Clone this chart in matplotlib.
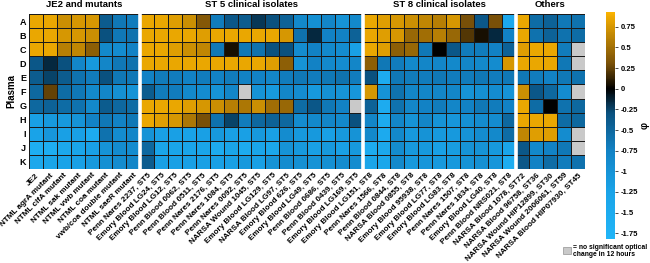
import numpy as np
import matplotlib
matplotlib.use("Agg")
import matplotlib.pyplot as plt
from matplotlib.colors import LinearSegmentedColormap, Normalize
from matplotlib.patches import Rectangle

plt.rcParams['font.family'] = ['Liberation Sans', 'DejaVu Sans']
plt.rcParams['font.weight'] = 'bold'

rows = list("ABCDEFGHIJK")

je2_labels = ["JE2", "NTML agrA mutant", "NTML clfA mutant", "NTML sak mutant",
              "NTML vwb mutant", "NTML coa mutant", "vwb/coa double mutant", "NTML saeR mutant"]
st5_labels = ["Penn Nares 2237, ST5", "Emory Blood LG24, ST5", "Emory Blood LG12, ST5",
              "Penn Blood 0062, ST5", "Penn Blood 0511, ST5", "Penn Nares 2176, ST5",
              "Penn Nares 1084, ST5", "Penn Nares 0092, ST5", "NARSA Wound 1045, ST5",
              "Emory Blood LG129, ST5", "NARSA Blood LG97, ST5", "Emory Blood 626, ST5",
              "Emory Blood LG49, ST5", "Penn Blood 0686, ST5", "Penn Blood 0439, ST5",
              "Emory Blood LG169, ST5"]
st8_labels = ["Emory Blood LG151, ST8", "Penn Nares 1566, ST8", "Penn Blood 0844, ST8",
              "NARSA Blood 0855, ST8", "Emory Blood 95938, ST8", "Emory Blood LG77, ST8",
              "Emory Blood LG83, ST8", "Penn Nares 1507, ST8", "Penn Nares 1834, ST8",
              "Emory Blood LG40, ST8", "Penn Blood NRS021, ST8"]
oth_labels = ["NARSA Blood 1078, ST72", "NARSA Blood 96758, ST36", "NARSA Wound HIP12899, ST30",
              "NARSA Wound 2006061, ST59", "NARSA Blood HIP07930, ST45"]

group_titles = ["JE2 and mutants", "ST 5 clinical isolates", "ST 8 clinical isolates", "Others"]

nan = np.nan
je2_vals = [
    [0.85, 0.85, 0.70, 0.75, 0.75, -0.40, -0.65, -0.70],
    [0.85, 0.85, 0.75, 0.75, 0.70, -0.30, -0.65, -0.60],
    [0.85, 0.85, 0.60, 0.65, 0.40, -0.85, -0.90, -0.75],
    [-0.35, -0.15, -0.30, -0.80, -1.10, -0.80, -0.65, -0.60],
    [-0.40, -0.25, -0.40, -0.60, -0.70, -0.30, -0.65, -0.65],
    [-0.50, 0.25, -0.55, -0.65, -0.85, -0.80, -0.95, -1.00],
    [-0.50, -0.45, -0.55, -0.60, -0.85, -0.40, -0.50, -0.55],
    [-1.20, -1.10, -1.10, -1.00, -0.75, -0.65, -0.75, -0.65],
    [-1.25, -1.05, -1.20, -1.20, -1.50, -0.60, -0.90, -0.80],
    [-1.60, -1.60, -1.40, -1.30, -1.20, -1.00, -0.90, -0.90],
    [-1.40, -1.30, -1.25, -1.20, -1.10, -0.95, -0.90, -0.80],
]
st5_vals = [
    [0.85, 0.85, 0.80, 0.70, 0.35, -0.70, -0.35, -0.40, -0.20, -0.30, -0.45, -0.85, -0.95, -0.80, -1.00, -0.85],
    [0.85, 0.85, 0.85, 0.85, 0.80, 0.85, 0.85, 0.85, 0.85, 0.85, 0.75, -0.60, -0.15, -0.75, -0.75, -0.45],
    [0.85, 0.85, 0.80, 0.70, 0.65, -0.65, 0.05, -0.65, -0.60, -0.30, -0.30, -0.90, -0.75, -0.85, -0.90, -1.20],
    [0.85, 0.85, 0.85, 0.85, 0.85, 0.85, 0.85, 0.85, 0.85, 0.80, 0.40, -1.00, -0.75, -0.85, -0.90, -0.80],
    [-0.75, -0.70, -0.70, -0.75, -0.70, -0.75, -0.70, -0.75, -0.75, -0.80, -0.70, -0.65, -0.70, -0.65, -0.60, -0.70],
    [-0.40, -0.70, -0.70, -0.85, -0.90, -1.00, -0.80, nan, -1.00, -1.10, -0.80, -0.90, -1.10, -0.95, -1.00, -1.05],
    [0.85, 0.85, 0.85, 0.80, 0.75, 0.70, 0.60, 0.55, 0.70, 0.50, 0.45, -0.55, -0.35, -0.65, -0.75, nan],
    [0.85, 0.80, 0.75, 0.55, 0.30, -0.60, -0.25, -0.70, -0.50, -0.45, -0.50, -0.90, -0.85, -0.80, -0.85, -0.30],
    [-1.00, -1.20, -1.20, -1.25, -1.20, -1.10, -1.20, -1.20, -1.10, -1.20, -0.90, -1.10, -1.10, -1.20, -1.10, -1.00],
    [-0.50, -1.30, -1.30, -1.30, -1.30, -1.50, -1.30, -1.50, -1.30, -1.35, -1.00, -1.10, -1.20, -1.10, -1.20, -1.10],
    [-0.40, -1.20, -1.20, -1.20, -1.20, -1.20, -1.20, -1.10, -1.20, -1.00, -0.90, -0.95, -1.00, -0.95, -0.90, -0.90],
]
st8_vals = [
    [0.85, 0.80, 0.75, 0.70, 0.65, 0.60, 0.75, 0.30, -0.35, 0.30, -1.40],
    [0.85, 0.80, 0.75, 0.45, 0.50, 0.60, 0.45, 0.20, 0.05, -0.15, -0.75],
    [0.85, 0.80, 0.40, 0.45, -0.65, 0.00, -0.35, -0.70, -0.70, -0.75, -0.45],
    [0.40, -0.65, -0.70, -0.85, -0.80, -0.80, -0.85, -0.80, -0.85, -0.90, 0.75],
    [-0.30, -1.50, -0.65, -0.70, -0.70, -0.65, -0.70, -0.70, -0.65, -0.70, -0.65],
    [0.75, -1.00, -0.60, -0.80, -0.80, -0.80, -0.80, -1.00, -0.95, -0.90, -1.00],
    [-0.45, -1.50, -0.60, -0.80, -0.75, -0.70, -0.80, -0.75, -0.65, -0.70, -0.75],
    [-0.80, -1.50, -0.80, -1.00, -0.80, -1.00, -1.05, -0.95, -0.90, -0.90, -0.50],
    [-0.85, -1.45, -0.85, -1.10, -1.00, -1.10, -1.10, -1.00, -0.90, -0.85, -0.55],
    [-1.50, -1.40, -0.90, -1.10, -1.10, -1.20, -1.15, -1.00, -1.00, -1.10, -1.30],
    [-1.30, -1.35, -0.85, -1.10, -1.05, -1.10, -1.10, -1.00, -0.95, -1.05, -1.55],
]
oth_vals = [
    [0.85, -0.55, -0.45, -0.65, -0.60],
    [0.85, -0.60, -0.45, -0.60, -0.55],
    [0.80, 0.85, 0.85, -0.70, nan],
    [0.85, 0.85, 0.85, -0.65, nan],
    [-0.65, -0.70, -0.75, -0.65, -0.60],
    [0.70, -0.35, -0.50, -0.90, nan],
    [0.85, -0.55, 0.00, -0.60, -0.50],
    [0.85, 0.85, 0.85, -0.55, -0.50],
    [0.65, 0.80, 0.80, -0.90, nan],
    [-0.35, -0.85, -0.75, -0.65, nan],
    [-0.35, -0.75, -0.55, -0.70, -0.60],
]

cbar_ticks = [0.75, 0.5, 0.25, 0, -0.25, -0.5, -0.75, -1, -1.25, -1.5, -1.75]
vmin, vmax = -1.82, 0.93

groups_vals = [je2_vals, st5_vals, st8_vals, oth_vals]
groups_labels = [je2_labels, st5_labels, st8_labels, oth_labels]
data = np.hstack([np.array(g, dtype=float) for g in groups_vals])
labels = sum(groups_labels, [])
sizes = [len(g) for g in groups_labels]
ncol = data.shape[1]
nrow = data.shape[0]

# colormap: light blue -> blue -> black (0) -> brown -> orange
nodes = [(-1.82, (0.13, 0.71, 0.97)),
         (-1.25, (0.10, 0.64, 0.91)),
         (-0.75, (0.07, 0.51, 0.77)),
         (-0.30, (0.04, 0.32, 0.50)),
         (0.00, (0.0, 0.0, 0.0)),
         (0.30, (0.47, 0.31, 0.03)),
         (0.93, (0.98, 0.70, 0.0))]
cmap = LinearSegmentedColormap.from_list(
    "phi", [((v - vmin) / (vmax - vmin), c) for v, c in nodes])
cmap.set_bad((0.79, 0.79, 0.79))
norm = Normalize(vmin=vmin, vmax=vmax)

W, H = 650, 263
fig = plt.figure(figsize=(W / 100, H / 100), dpi=100)
ax = fig.add_axes([29 / W, 1 - 169 / H, 556 / W, 155 / H])
masked = np.ma.masked_invalid(data)
mesh = ax.pcolormesh(np.arange(ncol + 1), np.arange(nrow + 1), masked, cmap=cmap, norm=norm,
                     edgecolors=(0.1, 0.1, 0.1), linewidth=0.4)
ax.set_xlim(0, ncol)
ax.set_ylim(nrow, 0)
for s in ax.spines.values():
    s.set_visible(False)

bounds = np.cumsum(sizes)
for b in bounds[:-1]:
    ax.axvline(b, color='white', lw=2.6)

ax.set_yticks(np.arange(nrow) + 0.5)
ax.set_yticklabels(rows, fontsize=6.5, fontweight='bold')
ax.set_xticks(np.arange(ncol) + 0.5)
ax.set_xticklabels(labels, fontsize=5.9, fontweight='bold', rotation=45,
                   ha='right', va='top', rotation_mode='anchor')
ax.tick_params(axis='both', length=0, pad=2)
ax.set_ylabel("Plasma", fontsize=7, fontweight='bold', labelpad=2)

starts = np.concatenate([[0], bounds[:-1]])
for st, sz, t in zip(starts, sizes, group_titles):
    ax.text(st + sz / 2, -0.35, t, ha='center', va='bottom', fontsize=6.8, fontweight='bold')

cax = fig.add_axes([606 / W, 1 - 239 / H, 9 / W, 227 / H])
cb = fig.colorbar(mesh, cax=cax)
cb.set_ticks(cbar_ticks)
cb.set_ticklabels(["%g" % t for t in cbar_ticks])
cb.outline.set_visible(False)
cax.tick_params(labelsize=5.5, length=2, width=0.5, pad=2)
for t in cax.get_yticklabels():
    t.set_fontweight('bold')
cb.set_label("φ", fontsize=7, fontweight='bold', rotation=90, labelpad=1)

fig.patches.append(Rectangle((563 / W, 1 - 254 / H), 8 / W, 7 / H, transform=fig.transFigure,
                             facecolor=(0.79, 0.79, 0.79), edgecolor=(0.5, 0.5, 0.5), lw=0.4))
fig.text(573 / W, 1 - 251 / H, "= no significant optical\nchange in 12 hours", fontsize=4.9,
         fontweight='bold', ha='left', va='center', linespacing=1.15)

fig.savefig("out.png", dpi=100)
